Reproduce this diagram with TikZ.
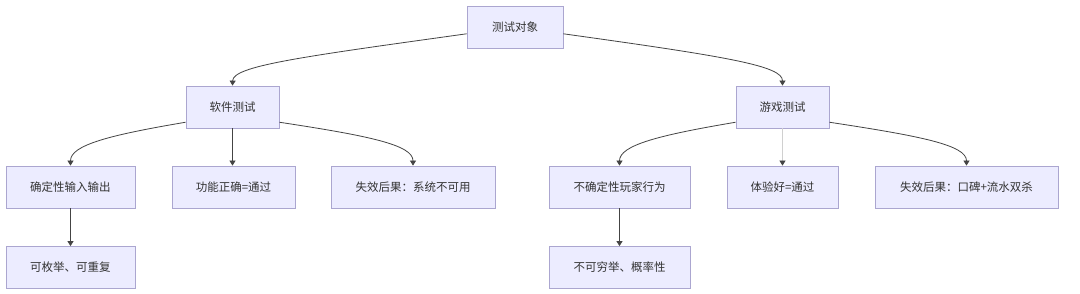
\documentclass[tikz,border=0pt]{standalone}
\usepackage{fontspec}
\newfontfamily\cjk{Noto Sans CJK SC}
\usetikzlibrary{arrows.meta}
\definecolor{boxfill}{HTML}{ECECFF}
\definecolor{boxline}{HTML}{ABA6D0}
\definecolor{edge}{HTML}{444444}
\begin{document}
\begin{tikzpicture}[x=1pt,y=-1pt,
  box/.style={draw=boxline,fill=boxfill,line width=0.8pt,minimum height=42pt,inner sep=0pt,
    font=\cjk\fontsize{11.5}{13}\selectfont,text=black!80},
  arr/.style={draw=edge,line width=0.8pt,-{Triangle[width=6pt,length=5pt]}}]
\fill[white] (0,0) rectangle (1080,294);
\node[box,minimum width=96pt] (root) at (515,27) {测试对象};
\node[box,minimum width=93pt] (sw) at (232.5,107) {软件测试};
\node[box,minimum width=93pt] (gm) at (782.5,107) {游戏测试};
\node[box,minimum width=129pt] (c1) at (70.5,187) {确定性输入输出};
\node[box,minimum width=123pt] (c2) at (233.5,187) {功能正确=通过};
\node[box,minimum width=164pt] (c3) at (413,187) {失效后果：系统不可用};
\node[box,minimum width=141pt] (c4) at (619.5,187) {不确定性玩家行为};
\node[box,minimum width=111pt] (c5) at (782.5,187) {体验好=通过};
\node[box,minimum width=183pt] (c6) at (966.5,187) {失效后果：口碑+流水双杀};
\node[box,minimum width=129pt] (d1) at (70.5,267.5) {可枚举、可重复};
\node[box,minimum width=141pt] (d2) at (619.5,267.5) {不可穷举、概率性};
\draw[arr] (root.188) .. controls (300,57) and (233,66) .. (sw.north);
\draw[arr] (root.352) .. controls (730,57) and (782.5,66) .. (gm.north);
\draw[arr] (sw.198) .. controls (110,135) and (70.5,145) .. (c1.north);
\draw[arr] (sw.south) -- (sw.south |- c2.north);
\draw[arr] (sw.342) .. controls (370,136) and (413,145) .. (c3.north);
\draw[arr] (gm.198) .. controls (660,135) and (619.5,145) .. (c4.north);
\draw[draw=edge!25,line width=0.8pt,-{Triangle[width=6pt,length=5pt,color=edge]}] (gm.south) -- (c5.north);
\draw[arr] (gm.342) .. controls (920,136) and (966.5,145) .. (c6.north);
\draw[arr] (c1.south) -- (d1.north);
\draw[arr] (c4.south) -- (d2.north);
\end{tikzpicture}
\end{document}
